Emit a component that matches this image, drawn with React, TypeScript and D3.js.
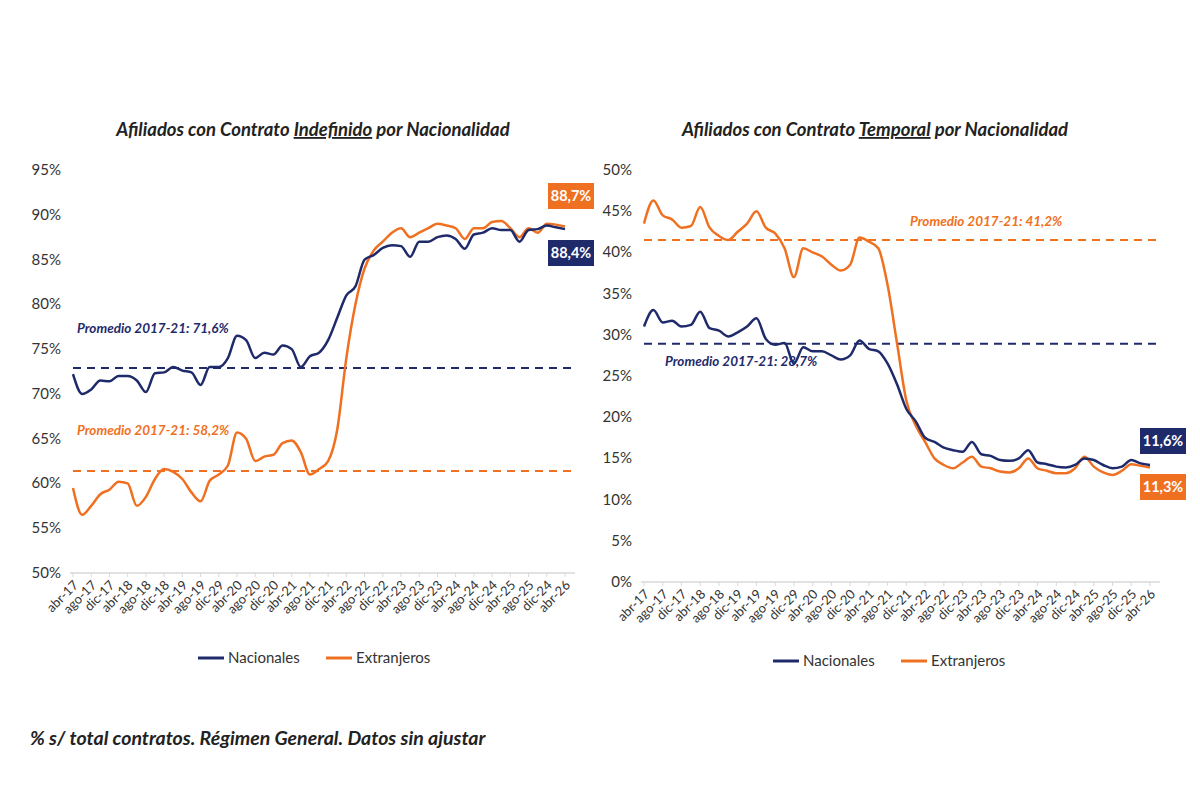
import React from "react";
import * as d3 from "d3";

const labelsL = ["abr-17","ago-17","dic-17","abr-18","ago-18","dic-18","abr-19","ago-19","dic-29","abr-20","ago-20","dic-20","abr-21","ago-21","dic-21","abr-22","ago-22","dic-22","abr-23","ago-23","dic-23","abr-24","ago-24","dic-24","abr-25","ago-25","dic-24","abr-26"];
const labelsR = ["abr-17","ago-17","dic-17","abr-18","ago-18","dic-19","abr-19","ago-19","dic-29","abr-20","ago-20","dic-20","abr-21","ago-21","dic-21","abr-22","ago-22","dic-23","abr-23","ago-23","dic-23","abr-24","ago-24","dic-24","abr-25","ago-25","dic-25","abr-26"];

const indefNac = [72.2,70.0,70.5,71.5,71.4,72.0,72.0,71.5,70.2,72.3,72.4,73.0,72.6,72.4,71.0,73.0,73.0,74.0,76.5,76.0,74.0,74.6,74.4,75.4,75.0,73.0,74.2,74.6,76.0,78.5,81.0,82.0,85.0,85.5,86.3,86.6,86.5,85.3,87.0,87.0,87.5,87.7,87.3,86.2,87.8,88.0,88.5,88.3,88.3,87.0,88.3,88.4,88.8,88.6,88.4];
const indefExt = [59.5,56.5,57.5,58.8,59.3,60.2,60.0,57.5,58.5,60.5,61.6,61.3,60.5,59.0,58.0,60.3,61.0,62.0,65.7,65.0,62.5,63.0,63.2,64.5,64.8,63.5,61.0,61.6,62.5,66.0,74.0,80.0,84.0,86.0,87.0,88.0,88.5,87.5,88.0,88.5,89.0,88.8,88.5,87.3,88.5,88.5,89.2,89.3,88.5,87.5,88.5,88.0,89.0,88.9,88.7];
const tempNac = [31,33,31.5,31.7,31,31.2,32.8,30.8,30.5,29.8,30.3,31.0,32.0,29.5,28.8,29.0,26.5,28.5,28.0,28.0,27.5,27.0,27.5,29.3,28.3,28.0,26.5,24.0,21.0,19.5,17.5,17.0,16.3,16.0,15.8,17.0,15.5,15.3,14.8,14.7,15.0,16.0,14.5,14.3,14.0,13.9,14.2,15.0,14.8,14.2,13.8,14.0,14.8,14.4,14.2];
const tempExt = [43.5,46.3,44.5,44.0,43.0,43.2,45.5,43.0,42.0,41.5,42.5,43.5,45.0,43.0,42.3,40.5,37.0,40.5,40.0,39.5,38.5,37.8,38.5,41.8,41.3,40.5,36.0,29.0,22.0,19.0,17.0,15.0,14.2,13.8,14.5,15.2,14.0,13.8,13.4,13.3,13.8,15.0,13.8,13.5,13.2,13.2,13.8,15.2,14.0,13.3,13.0,13.5,14.3,14.1,13.9];

const NAVY = "#1f2a6b";
const ORANGE = "#f07021";
const FONT = "Lato, 'Open Sans', sans-serif";

type P = {
  x0: number; x1: number; y0: number; y1: number; dom: [number, number]; ticks: number[];
  labels: string[]; nac: number[]; ext: number[]; avgNac: number; avgExt: number;
  title: string; under: string; titleX: number; legendX: number; legendY: number;
  avgNacTxt: { x: number; y: number; t: string }; avgExtTxt: { x: number; y: number; t: string };
  boxes: { x: number; y: number; t: string; c: string }[];
};

function Panel(p: P) {
  const x = d3.scaleLinear().domain([0, p.labels.length - 1]).range([p.x0, p.x1]);
  const y = d3.scaleLinear().domain(p.dom).range([p.y0, p.y1]);
  const line = d3.line<number>().x((_, i) => x(i / 2)).y((d) => y(d)).curve(d3.curveMonotoneX);
  const parts = p.title.split(p.under);
  return (
    <g fontFamily={FONT}>
      <text x={p.titleX} y={136} textAnchor="middle" fontSize={18.5} fontWeight="bold" fontStyle="italic" fill="#222">
        {parts[0]}<tspan textDecoration="underline">{p.under}</tspan>{parts[1]}
      </text>
      {p.ticks.map((t) => (
        <text key={t} x={p.x0 - 12} y={y(t) + 5} textAnchor="end" fontSize={15} fill="#333">{t}%</text>
      ))}
      <line x1={p.x0 - 3} x2={p.x1 + 10} y1={p.y0} y2={p.y0} stroke="#d9d9d9" strokeWidth={1.5} />
      {p.labels.map((l, i) => (
        <g key={i}>
          <line x1={x(i)} x2={x(i)} y1={p.y0} y2={p.y0 + 4} stroke="#d9d9d9" />
          <text transform={`translate(${x(i) + 6},${p.y0 + 13}) rotate(-45)`} textAnchor="end" fontSize={13} fill="#333">{l}</text>
        </g>
      ))}
      <line x1={p.x0} x2={p.x1 + 10} y1={y(p.avgNac)} y2={y(p.avgNac)} stroke={NAVY} strokeWidth={2} strokeDasharray="8,6" />
      <line x1={p.x0} x2={p.x1 + 10} y1={y(p.avgExt)} y2={y(p.avgExt)} stroke={ORANGE} strokeWidth={2} strokeDasharray="8,6" />
      <path d={line(p.ext) || ""} fill="none" stroke={ORANGE} strokeWidth={2.5} />
      <path d={line(p.nac) || ""} fill="none" stroke={NAVY} strokeWidth={2.5} />
      <text x={p.avgNacTxt.x} y={p.avgNacTxt.y} fontSize={13.5} fontWeight="bold" fontStyle="italic" fill={NAVY}>{p.avgNacTxt.t}</text>
      <text x={p.avgExtTxt.x} y={p.avgExtTxt.y} fontSize={13.5} fontWeight="bold" fontStyle="italic" fill={ORANGE}>{p.avgExtTxt.t}</text>
      {p.boxes.map((b, i) => (
        <g key={i}>
          <rect x={b.x} y={b.y} width={46} height={26} fill={b.c} />
          <text x={b.x + 23} y={b.y + 18} textAnchor="middle" fontSize={14.5} fontWeight="bold" fill="#fff">{b.t}</text>
        </g>
      ))}
      <line x1={p.legendX} x2={p.legendX + 26} y1={p.legendY} y2={p.legendY} stroke={NAVY} strokeWidth={3} />
      <text x={p.legendX + 30} y={p.legendY + 5} fontSize={15} fill="#333">Nacionales</text>
      <line x1={p.legendX + 128} x2={p.legendX + 154} y1={p.legendY} y2={p.legendY} stroke={ORANGE} strokeWidth={3} />
      <text x={p.legendX + 158} y={p.legendY + 5} fontSize={15} fill="#333">Extranjeros</text>
    </g>
  );
}

export default function App() {
  return (
    <svg width={1200} height={800} style={{ position: "absolute", left: 0, top: 0, background: "#fff" }}>
      <Panel x0={73} x1={565} y0={573} y1={170} dom={[50, 95]} ticks={[50,55,60,65,70,75,80,85,90,95]}
        labels={labelsL} nac={indefNac} ext={indefExt} avgNac={72.9} avgExt={61.4}
        title="Afiliados con Contrato Indefinido por Nacionalidad" under="Indefinido" titleX={313} legendX={198} legendY={658}
        avgNacTxt={{ x: 77, y: 333, t: "Promedio 2017-21: 71,6%" }}
        avgExtTxt={{ x: 77, y: 435, t: "Promedio 2017-21: 58,2%" }}
        boxes={[{ x: 548, y: 183, t: "88,7%", c: ORANGE }, { x: 548, y: 240, t: "88,4%", c: NAVY }]} />
      <Panel x0={644} x1={1150} y0={582} y1={170} dom={[0, 50]} ticks={[0,5,10,15,20,25,30,35,40,45,50]}
        labels={labelsR} nac={tempNac} ext={tempExt} avgNac={28.9} avgExt={41.5}
        title="Afiliados con Contrato Temporal por Nacionalidad" under="Temporal" titleX={875} legendX={773} legendY={661}
        avgNacTxt={{ x: 665, y: 366, t: "Promedio 2017-21: 28,7%" }}
        avgExtTxt={{ x: 910, y: 226, t: "Promedio 2017-21: 41,2%" }}
        boxes={[{ x: 1140, y: 428, t: "11,6%", c: NAVY }, { x: 1140, y: 474, t: "11,3%", c: ORANGE }]} />
      <text x={30} y={745} fontFamily={FONT} fontSize={19.5} fontWeight="bold" fontStyle="italic" fill="#222">
        % s/ total contratos. Régimen General. Datos sin ajustar
      </text>
    </svg>
  );
}
